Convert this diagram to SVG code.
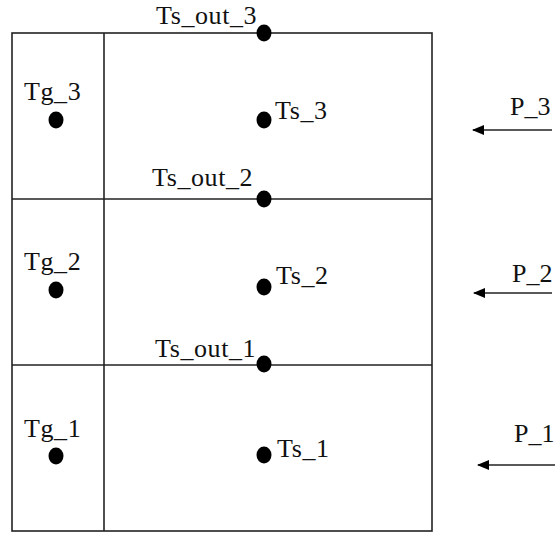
<svg xmlns="http://www.w3.org/2000/svg" width="555" height="534" viewBox="0 0 555 534">
<style>
.ln{stroke:#222;stroke-width:1.6;fill:none}
.dot{fill:#000}
text{font-family:'Liberation Serif','Times New Roman',serif;font-size:26px;letter-spacing:0.6px;fill:#111}
.p{letter-spacing:0}
</style>
<defs>
<marker id="ah" viewBox="0 0 12 10" refX="11" refY="5" markerWidth="12" markerHeight="10" markerUnits="userSpaceOnUse" orient="auto">
<path d="M0,0 L12,5 L0,10 Z" fill="#000"/>
</marker>
</defs>
<rect width="555" height="534" fill="#fff"/>
<g id="frame">
<rect class="ln" x="12" y="33" width="420" height="498"/>
<line class="ln" x1="104" y1="33" x2="104" y2="531"/>
<line class="ln" x1="12" y1="199" x2="432" y2="199"/>
<line class="ln" x1="12" y1="365" x2="432" y2="365"/>
</g>
<g id="Ts_out_3"><ellipse class="dot" cx="264" cy="33" rx="7.5" ry="8.5"/><text x="156" y="24">Ts_out_3</text></g>
<g id="Ts_out_2"><ellipse class="dot" cx="264" cy="199" rx="7.5" ry="8.5"/><text x="152" y="186">Ts_out_2</text></g>
<g id="Ts_out_1"><ellipse class="dot" cx="264" cy="364" rx="7.5" ry="8.5"/><text x="155" y="357">Ts_out_1</text></g>
<g id="Tg_3"><ellipse class="dot" cx="56" cy="120" rx="7.5" ry="8.5"/><text x="24" y="100">Tg_3</text></g>
<g id="Tg_2"><ellipse class="dot" cx="56" cy="290" rx="7.5" ry="8.5"/><text x="24" y="270">Tg_2</text></g>
<g id="Tg_1"><ellipse class="dot" cx="56" cy="456" rx="7.5" ry="8.5"/><text x="24" y="437">Tg_1</text></g>
<g id="Ts_3"><ellipse class="dot" cx="264" cy="120" rx="7.5" ry="8.5"/><text x="275" y="119">Ts_3</text></g>
<g id="Ts_2"><ellipse class="dot" cx="264" cy="287" rx="7.5" ry="8.5"/><text x="276" y="284">Ts_2</text></g>
<g id="Ts_1"><ellipse class="dot" cx="264" cy="455" rx="7.5" ry="8.5"/><text x="277" y="457">Ts_1</text></g>
<g id="P_3"><text class="p" x="510" y="115">P_3</text></g>
<g id="P_2"><text class="p" x="512" y="282">P_2</text></g>
<g id="P_1"><text class="p" x="514" y="442">P_1</text></g>
<g id="connectors">
<line class="ln" x1="552" y1="130" x2="473" y2="130" marker-end="url(#ah)"/>
<line class="ln" x1="552" y1="293" x2="474" y2="293" marker-end="url(#ah)"/>
<line class="ln" x1="555" y1="465" x2="478" y2="465" marker-end="url(#ah)"/>
</g>
</svg>
